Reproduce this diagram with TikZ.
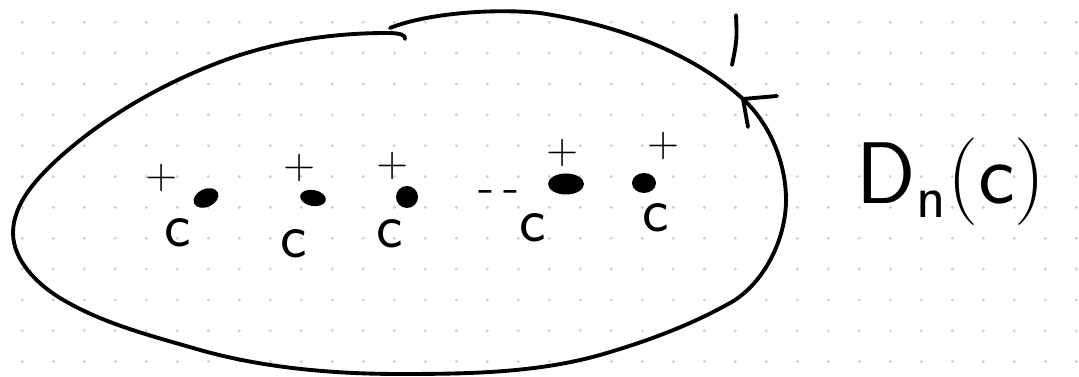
\documentclass[tikz,border=0pt]{standalone}
\usetikzlibrary{positioning}
\definecolor{GridDot}{HTML}{D0D0D0}
\definecolor{InkBlack}{HTML}{000000}

\begin{document}
\begin{tikzpicture}[x=0.01cm, y=-0.01cm,
    ink/.style={draw=InkBlack, line width=1.1pt, line cap=round, line join=round},
    plusmark/.style={font=\fontsize{12}{14}\selectfont, text=InkBlack, inner sep=0pt},
    clabel/.style={font=\sffamily\fontsize{18}{20}\selectfont, text=InkBlack, inner sep=0pt},
    puncture/.style={fill=InkBlack}]
  \useasboundingbox (0,0) rectangle (1079,377);
  \fill[white] (0,0) rectangle (1079,377);

  % dotted paper
  \foreach \i in {0,...,34}
    \foreach \j in {0,...,11}
      \fill[GridDot] (22.3+31*\i, 22.3+30.85*\j) circle (0.016cm);

  % boundary of the disk
  \draw[ink] (390,28) .. controls (425,14) and (490,8) .. (540,13)
    .. controls (612,24) and (689,50) .. (743,99)
    .. controls (770,124) and (786,163) .. (786,200)
    .. controls (786,239) and (764,284) .. (730,303)
    .. controls (689,326) and (645,342) .. (600,355)
    .. controls (536,373) and (467,374) .. (400,374)
    .. controls (333,374) and (264,368) .. (200,350)
    .. controls (152,336) and (103,324) .. (60,298)
    .. controls (37,284) and (13,260) .. (13,233)
    .. controls (13,203) and (38,177) .. (60,157)
    .. controls (106,116) and (162,84) .. (220,62)
    .. controls (273,42) and (330,33) .. (387,33)
    .. controls (400,33) and (406,35) .. (405,39);

  % orientation arrow and tick on the boundary
  \coordinate (arrowtip) at (743,99);
  \draw[ink] (arrowtip) -- ++(34,-3);
  \draw[ink] (arrowtip) -- ++(5,28);
  \draw[ink] (736,15) .. controls (737,40) .. (732,65);

  % punctures
  \fill[puncture, rotate around={25:(206,198)}] (206,198) ellipse [x radius=0.13cm, y radius=0.09cm];
  \fill[puncture, rotate around={-10:(313,198)}] (313,198) ellipse [x radius=0.13cm, y radius=0.08cm];
  \fill[puncture] (407,197) ellipse [x radius=0.11cm, y radius=0.11cm];
  \fill[puncture] (566,184) ellipse [x radius=0.18cm, y radius=0.105cm];
  \fill[puncture] (644,183) ellipse [x radius=0.12cm, y radius=0.1cm];

  % signs
  \node[plusmark] (plusA) at (162,178) {+};
  \node[plusmark] (plusB) at (300,168) {+};
  \node[plusmark] (plusC) at (393,166) {+};
  \node[plusmark] (plusD) at (563,153) {+};
  \node[plusmark] (plusE) at (664,146) {+};

  % labels
  \node[clabel] (cA) at (178,233) {c};
  \node[clabel] (cB) at (294,244) {c};
  \node[clabel] (cC) at (390,234) {c};
  \node[clabel] (cD) at (533,228) {c};
  \node[clabel] (cE) at (656,218) {c};
  \node[font=\fontsize{14}{16}\selectfont, text=InkBlack, inner sep=0pt] (gap) at (499,197) {-\,-};

  \node[anchor=base west, font=\fontsize{27}{32}\selectfont, text=InkBlack, inner sep=0pt] (diskname) at (856,204) {$\mathsf{D}_{\mathsf{n}}(\mathsf{c})$};
\end{tikzpicture}
\end{document}
